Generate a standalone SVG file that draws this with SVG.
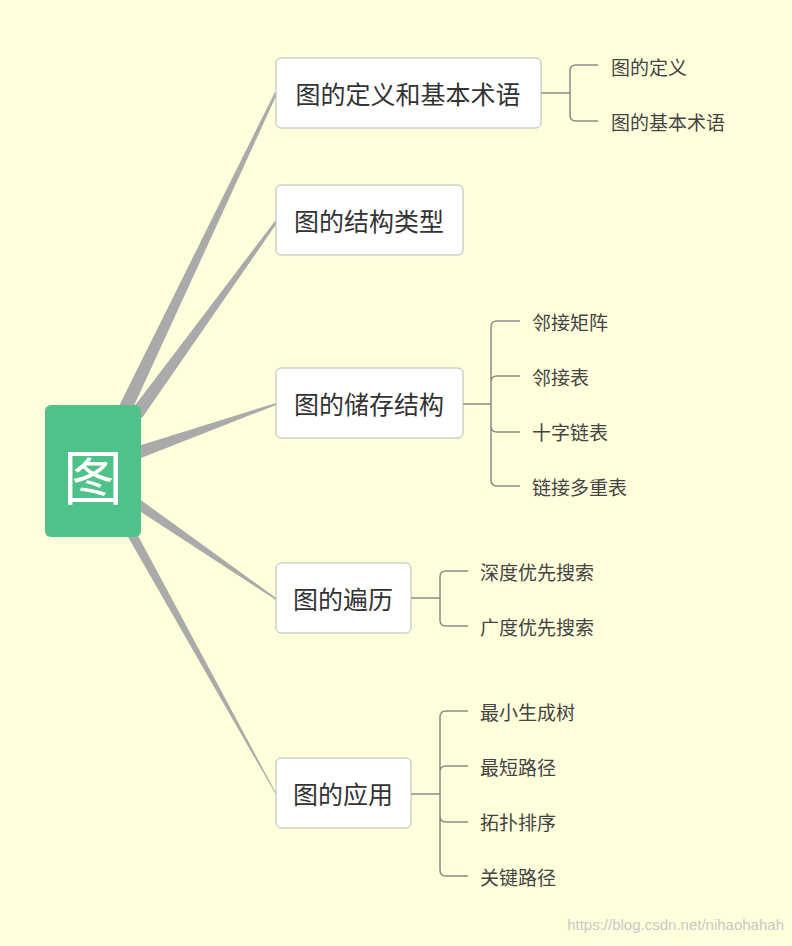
<svg xmlns="http://www.w3.org/2000/svg" width="792" height="946" viewBox="0 0 792 946">
<style>
.nb{fill:#fff;stroke:#b8b8b8;stroke-width:1}
.nt{font-family:"Noto Sans CJK SC",sans-serif;font-size:25px;fill:#333;dominant-baseline:central}
.lt{font-family:"Noto Sans CJK SC",sans-serif;font-size:19px;fill:#444;dominant-baseline:central}
.br{fill:none;stroke:#8a8a8a;stroke-width:1.5}
.tp{fill:#aaa}
</style>
<rect width="792" height="946" fill="#ffffdc"/>
<g id="connectors">
<polygon class="tp" points="118,408 132,410 277,94 275,92"/>
<polygon class="tp" points="130,412 142,418 277,223 275,221"/>
<polygon class="tp" points="138,446 141,458 276,405 276,403"/>
<polygon class="tp" points="138,498 141,512 276,600 276,598"/>
<polygon class="tp" points="124,530 136,532 277,795 275,793"/>
<path class="br" d="M541,93H570M598,65H576Q570,65 570,71V115Q570,121 576,121H598"/>
<path class="br" d="M463,404H491M520,321H497Q491,321 491,327V480Q491,486 497,486H520M491,382Q491,376 497,376H520M491,426Q491,432 497,432H520"/>
<path class="br" d="M411,598H440M468,571H446Q440,571 440,577V620Q440,626 446,626H468"/>
<path class="br" d="M411,794H440M468,711H446Q440,711 440,717V870Q440,876 446,876H468M440,772Q440,766 446,766H468M440,816Q440,822 446,822H468"/>
</g>
<g id="root"><rect x="45" y="405" width="96" height="132" rx="6" fill="#4fc28a"/><text x="93" y="473" text-anchor="middle" font-family="Noto Sans CJK SC,sans-serif" font-size="60" fill="#fff" dominant-baseline="central">图</text></g>
<g id="n1"><rect class="nb" x="276" y="58" width="265" height="70" rx="5"/><text class="nt" x="408" y="93" text-anchor="middle">图的定义和基本术语</text></g>
<g id="n2"><rect class="nb" x="276" y="185" width="187" height="70" rx="5"/><text class="nt" x="369" y="220" text-anchor="middle">图的结构类型</text></g>
<g id="n3"><rect class="nb" x="276" y="368" width="187" height="70" rx="5"/><text class="nt" x="369" y="403" text-anchor="middle">图的储存结构</text></g>
<g id="n4"><rect class="nb" x="276" y="563" width="135" height="70" rx="5"/><text class="nt" x="343" y="598" text-anchor="middle">图的遍历</text></g>
<g id="n5"><rect class="nb" x="276" y="758" width="135" height="70" rx="5"/><text class="nt" x="343" y="793" text-anchor="middle">图的应用</text></g>
<g id="leaves">
<text class="lt" x="611" y="66">图的定义</text>
<text class="lt" x="611" y="121">图的基本术语</text>
<text class="lt" x="532" y="321">邻接矩阵</text>
<text class="lt" x="532" y="376">邻接表</text>
<text class="lt" x="532" y="431">十字链表</text>
<text class="lt" x="532" y="486">链接多重表</text>
<text class="lt" x="480" y="571">深度优先搜索</text>
<text class="lt" x="480" y="626">广度优先搜索</text>
<text class="lt" x="480" y="711">最小生成树</text>
<text class="lt" x="480" y="766">最短路径</text>
<text class="lt" x="480" y="821">拓扑排序</text>
<text class="lt" x="480" y="876">关键路径</text>
</g>
<text x="784" y="930" text-anchor="end" font-family="Liberation Sans,sans-serif" font-size="15" fill="#c8c8c8">https://blog.csdn.net/nihaohahah</text>
</svg>
